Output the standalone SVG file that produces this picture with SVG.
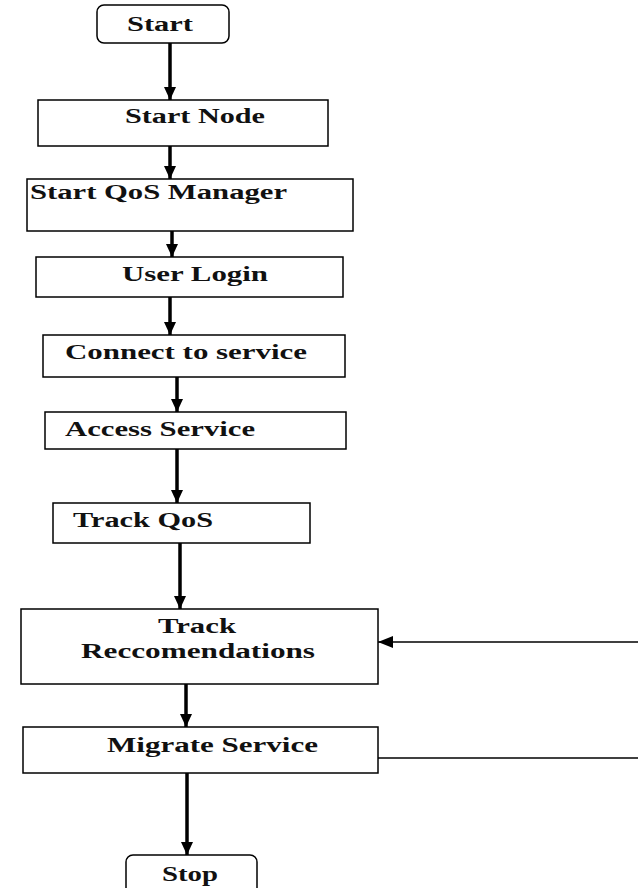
<svg xmlns="http://www.w3.org/2000/svg" width="638" height="888" viewBox="0 0 638 888">
<style>
.box{fill:#fff;stroke:#000;stroke-width:1.5}
.t{font-family:"Liberation Serif","Times New Roman",serif;font-size:20px;font-weight:bold;fill:#111}
.c{stroke:#000;stroke-width:3.5;fill:none}
.thin{stroke:#000;stroke-width:1.4;fill:none}
</style>
<defs>
<marker id="ah" markerUnits="userSpaceOnUse" markerWidth="14" markerHeight="12" refX="13" refY="6" orient="auto">
<path d="M0,0 L13,6 L0,12 Z" fill="#000"/>
</marker>
<marker id="ah2" markerUnits="userSpaceOnUse" markerWidth="16" markerHeight="12" refX="15" refY="6" orient="auto">
<path d="M0,0 L15,6 L0,12 Z" fill="#000"/>
</marker>
</defs>
<rect width="638" height="888" fill="#fff"/>
<g id="connectors">
<line class="c" x1="170" y1="43" x2="170" y2="100" marker-end="url(#ah)"/>
<line class="c" x1="170" y1="146" x2="170" y2="179" marker-end="url(#ah)"/>
<line class="c" x1="172" y1="231" x2="172" y2="257" marker-end="url(#ah)"/>
<line class="c" x1="170" y1="297" x2="170" y2="335" marker-end="url(#ah)"/>
<line class="c" x1="177" y1="377" x2="177" y2="412" marker-end="url(#ah)"/>
<line class="c" x1="177" y1="449" x2="177" y2="503" marker-end="url(#ah)"/>
<line class="c" x1="180" y1="543" x2="180" y2="609" marker-end="url(#ah)"/>
<line class="c" x1="186" y1="684" x2="186" y2="727" marker-end="url(#ah)"/>
<line class="c" x1="187" y1="773" x2="187" y2="855" marker-end="url(#ah)"/>
<line class="thin" x1="638" y1="642" x2="378" y2="642" marker-end="url(#ah2)"/>
<line class="thin" x1="378" y1="758" x2="638" y2="758"/>
</g>
<g id="start">
<rect class="box" x="97" y="5" width="132" height="38" rx="7"/>
<text class="t" x="127" y="31" textLength="66" lengthAdjust="spacingAndGlyphs">Start</text>
</g>
<g id="start-node">
<rect class="box" x="38" y="100" width="290" height="46"/>
<text class="t" x="125" y="123" textLength="140" lengthAdjust="spacingAndGlyphs">Start Node</text>
</g>
<g id="start-qos-manager">
<rect class="box" x="27" y="179" width="326" height="52"/>
<text class="t" x="30" y="199" textLength="257" lengthAdjust="spacingAndGlyphs">Start QoS Manager</text>
</g>
<g id="user-login">
<rect class="box" x="36" y="257" width="307" height="40"/>
<text class="t" x="122" y="281" textLength="146" lengthAdjust="spacingAndGlyphs">User Login</text>
</g>
<g id="connect-to-service">
<rect class="box" x="43" y="335" width="302" height="42"/>
<text class="t" x="65" y="359" textLength="242" lengthAdjust="spacingAndGlyphs">Connect to service</text>
</g>
<g id="access-service">
<rect class="box" x="45" y="412" width="301" height="37"/>
<text class="t" x="65" y="436" textLength="190" lengthAdjust="spacingAndGlyphs">Access Service</text>
</g>
<g id="track-qos">
<rect class="box" x="53" y="503" width="257" height="40"/>
<text class="t" x="73" y="527" textLength="140" lengthAdjust="spacingAndGlyphs">Track QoS</text>
</g>
<g id="track-recommendations">
<rect class="box" x="21" y="609" width="357" height="75"/>
<text class="t" x="158" y="633" textLength="78" lengthAdjust="spacingAndGlyphs">Track</text>
<text class="t" x="81" y="658" textLength="234" lengthAdjust="spacingAndGlyphs">Reccomendations</text>
</g>
<g id="migrate-service">
<rect class="box" x="23" y="727" width="355" height="46"/>
<text class="t" x="107" y="752" textLength="211" lengthAdjust="spacingAndGlyphs">Migrate Service</text>
</g>
<g id="stop">
<rect class="box" x="126" y="855" width="131" height="40" rx="7"/>
<text class="t" x="162" y="881" textLength="56" lengthAdjust="spacingAndGlyphs">Stop</text>
</g>
</svg>
